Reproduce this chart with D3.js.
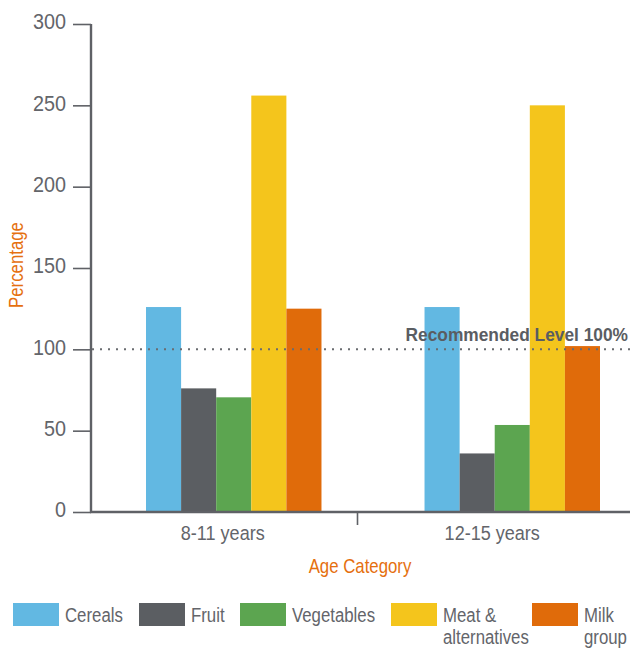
<!DOCTYPE html>
<html>
<head>
<meta charset="utf-8">
<script src="https://cdn.jsdelivr.net/npm/d3@7"></script>
<style>
  html, body { margin: 0; padding: 0; background: #ffffff; }
  svg { display: block; }
  text { font-family: "Liberation Sans", Arial, sans-serif; }
</style>
</head>
<body>
<svg id="chart" width="630" height="650"></svg>
<script>
// ---- data ----
const categories = ["8-11 years", "12-15 years"];
const seriesNames = ["Cereals", "Fruit", "Vegetables", "Meat & alternatives", "Milk group"];
const legendLines = [["Cereals"], ["Fruit"], ["Vegetables"], ["Meat &", "alternatives"], ["Milk", "group"]];
const cereals    = [126, 126];
const fruit      = [76, 36];
const vegetables = [70.5, 53.5];
const meat       = [256, 250];
const milk       = [125, 102];
const yTicks = [0, 50, 100, 150, 200, 250, 300];
const recommended = 100;
const recommendedLabel = "Recommended Level 100%";
const xTitle = "Age Category";
const yTitle = "Percentage";

const seriesValues = [cereals, fruit, vegetables, meat, milk];
const colors = ["#62b8e2", "#5b5e62", "#5ca550", "#f4c51c", "#e06b0a"];
const axisColor = "#5f6166";
const textColor = "#63656a";
const orange = "#e5700f";

const svg = d3.select("#chart");

// emulate a condensed face by compressing glyphs horizontally
function condense(sel, factor) {
  sel.each(function () {
    const w = this.getComputedTextLength();
    d3.select(this).attr("textLength", w * factor).attr("lengthAdjust", "spacingAndGlyphs");
  });
}

// scales
const y = d3.scaleLinear().domain([0, 300]).range([512, 24]);
const xAxisScale = d3.scaleBand().domain(categories).range([88, 627]);
const xGroup = d3.scaleBand().domain(categories).range([146, 600]).paddingInner(0.37);
const xSeries = d3.scaleBand().domain(seriesNames).range([0, xGroup.bandwidth()]);

// bars
const barData = [];
categories.forEach((c, ci) => {
  seriesNames.forEach((s, si) => {
    barData.push({ cat: c, series: s, value: seriesValues[si][ci], color: colors[si] });
  });
});
svg.append("g").selectAll("rect").data(barData).join("rect")
  .attr("x", d => xGroup(d.cat) + xSeries(d.series))
  .attr("width", xSeries.bandwidth())
  .attr("y", d => y(d.value))
  .attr("height", d => y(0) - y(d.value))
  .attr("fill", d => d.color);

// y axis
const yAxis = d3.axisLeft(y).tickValues(yTicks).tickSize(18).tickPadding(7);
const gy = svg.append("g").attr("transform", "translate(91,0)").call(yAxis);
gy.select(".domain").remove();
gy.selectAll(".tick line").attr("stroke", axisColor).attr("stroke-width", 1.6);
gy.selectAll(".tick text").attr("fill", textColor).attr("font-size", 21.5).attr("dy", "0.22em")
  .attr("font-family", "'Liberation Sans', Arial, sans-serif");
condense(gy.selectAll(".tick text"), 0.92);
svg.append("line").attr("x1", 91).attr("x2", 91).attr("y1", y(300)).attr("y2", y(0) + 1)
  .attr("stroke", axisColor).attr("stroke-width", 2.4);

// x axis
svg.append("line").attr("x1", 90).attr("x2", 630).attr("y1", y(0)).attr("y2", y(0))
  .attr("stroke", axisColor).attr("stroke-width", 2.4);
svg.append("line")
  .attr("x1", xAxisScale(categories[1])).attr("x2", xAxisScale(categories[1]))
  .attr("y1", y(0)).attr("y2", y(0) + 13)
  .attr("stroke", axisColor).attr("stroke-width", 1.6);
const xl = svg.append("g").selectAll("text").data(categories).join("text")
  .attr("x", d => xAxisScale(d) + xAxisScale.bandwidth() / 2)
  .attr("y", 540)
  .attr("text-anchor", "middle")
  .attr("font-size", 20.5)
  .attr("fill", textColor)
  .text(d => d);
condense(xl, 0.88);

// recommended line
svg.append("line").attr("x1", 92).attr("x2", 630).attr("y1", y(recommended)).attr("y2", y(recommended))
  .attr("stroke", "#6a6c70").attr("stroke-width", 2).attr("stroke-dasharray", "2,6")
  .attr("stroke-linecap", "butt");
const rl = svg.append("text").attr("x", 628).attr("y", 341).attr("text-anchor", "end")
  .attr("font-size", 17.5).attr("font-weight", "bold").attr("fill", "#5a5d62")
  .text(recommendedLabel);
condense(rl, 0.99);

// titles
const xt = svg.append("text").attr("x", 360).attr("y", 573).attr("text-anchor", "middle")
  .attr("font-size", 21).attr("fill", orange).text(xTitle);
condense(xt, 0.8);
const yt = svg.append("text").attr("transform", "translate(23,265) rotate(-90)").attr("text-anchor", "middle")
  .attr("font-size", 21).attr("fill", orange).text(yTitle);
condense(yt, 0.8);

// legend
const legendX = [13, 139, 240, 391, 532];
const lg = svg.append("g");
seriesNames.forEach((s, i) => {
  const g = lg.append("g").attr("transform", `translate(${legendX[i]},603)`);
  g.append("rect").attr("width", 46).attr("height", 23).attr("fill", colors[i]);
  const tg = g.append("g").attr("transform", "translate(52,0) scale(0.8,1)");
  tg.append("text").attr("x", 0).attr("y", 19.5)
    .attr("font-size", 21).attr("fill", textColor)
    .selectAll("tspan").data(legendLines[i]).join("tspan")
    .attr("x", 0).attr("dy", (d, j) => j === 0 ? 0 : 21.5).text(d => d);
});
</script>
</body>
</html>
